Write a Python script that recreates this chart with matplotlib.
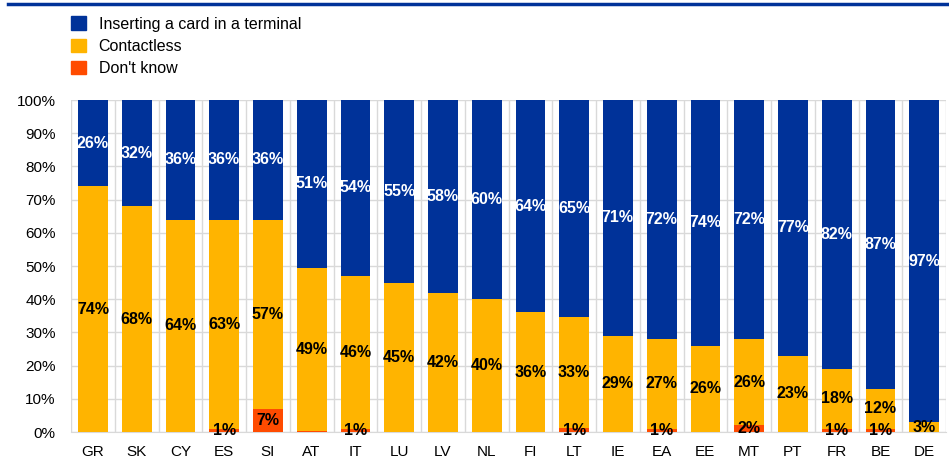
import numpy as np
import matplotlib.pyplot as plt
from matplotlib.patches import Patch

# datos
paises = ["GR", "SK", "CY", "ES", "SI", "AT", "IT", "LU", "LV", "NL",
          "FI", "LT", "IE", "EA", "EE", "MT", "PT", "FR", "BE", "DE"]
no_sabe = [0, 0, 0, 1, 7, 0.4, 1, 0, 0, 0, 0, 1.2, 0, 1, 0, 2, 0, 1, 1, 0]
sin_contacto = [74, 68, 64, 63, 57, 49, 46, 45, 42, 40,
                36, 33.4, 29, 27, 26, 26, 23, 18, 12, 3]
insertar = [26, 32, 36, 36, 36, 51, 54, 55, 58, 60,
            64, 65.4, 71, 72, 74, 72, 77, 82, 87, 97]

AZUL = "#003299"
AMARILLO = "#FFB400"
ROJO = "#FF4B00"

plt.rcParams["font.family"] = ["Liberation Sans", "DejaVu Sans"]
plt.rcParams["font.size"] = 11

fig = plt.figure(figsize=(9.49, 4.66), dpi=100)
ax = fig.add_axes([71 / 949, 34 / 466, 875 / 949, 332 / 466])

x = np.arange(len(paises))
ns = np.array(no_sabe)
sc = np.array(sin_contacto)
ins = np.array(insertar)
ancho = 0.68

ax.bar(x, ns, ancho, color=ROJO, zorder=3)
ax.bar(x, sc, ancho, bottom=ns, color=AMARILLO, zorder=3)
ax.bar(x, ins, ancho, bottom=ns + sc, color=AZUL, zorder=3)

# etiquetas de los segmentos
tam = 11.5
for i in range(len(paises)):
    if round(ns[i]) >= 1:
        ax.text(x[i], ns[i] / 2, f"{round(ns[i])}%", ha="center", va="center",
                fontsize=tam, fontweight="bold", color="black", zorder=5)
    ax.text(x[i], ns[i] + sc[i] / 2, f"{round(sc[i])}%", ha="center", va="center",
            fontsize=tam, fontweight="bold", color="black", zorder=5)
    y3 = min(ns[i] + sc[i] + ins[i] / 2, (ns[i] + sc[i] + 100) / 2)
    ax.text(x[i], y3, f"{round(ins[i])}%", ha="center", va="center",
            fontsize=tam, fontweight="bold", color="white", zorder=5)

ax.set_xlim(-0.5, len(paises) - 0.5)
ax.set_ylim(0, 100)
ax.set_yticks(np.arange(0, 101, 10))
ax.set_yticklabels([f"{v}%" for v in range(0, 101, 10)])
ax.set_xticks(x)
ax.set_xticklabels(paises)
ax.set_xticks(np.arange(-0.5, len(paises), 1), minor=True)
ax.tick_params(which="both", length=0)
ax.tick_params(axis="x", pad=9)
ax.tick_params(axis="y", pad=11)
ax.grid(axis="y", color="#d9d9d9", linewidth=1, zorder=0)
ax.grid(axis="x", which="minor", color="#d9d9d9", linewidth=1, zorder=0)
for s in ax.spines.values():
    s.set_visible(False)
ax.spines["bottom"].set_visible(True)
ax.spines["bottom"].set_color("#d9d9d9")

# linea azul superior
fig.add_artist(plt.Line2D([8 / 949, 1], [1 - 4 / 466, 1 - 4 / 466],
                          color=AZUL, linewidth=2.5))

handles = [Patch(color=AZUL), Patch(color=AMARILLO), Patch(color=ROJO)]
fig.legend(handles, ["Inserting a card in a terminal", "Contactless", "Don't know"],
           loc="upper left", bbox_to_anchor=(57 / 949, 1 - 2 / 466), frameon=False,
           fontsize=11.5, handlelength=0.9, handleheight=0.9, handletextpad=0.8,
           labelspacing=0.45)

fig.savefig("out.png", dpi=100)
